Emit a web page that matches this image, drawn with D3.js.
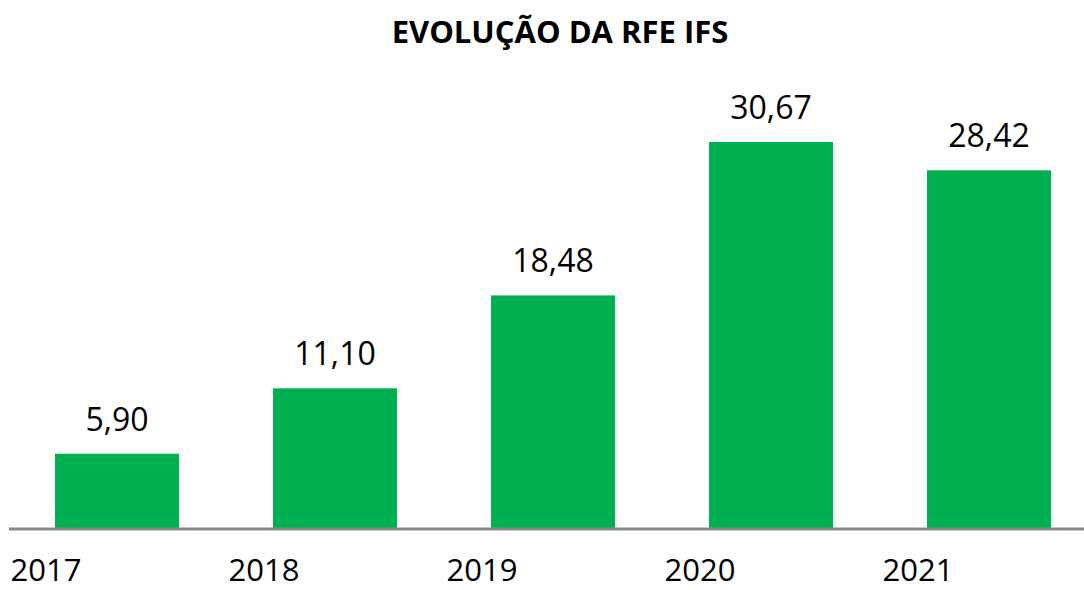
<!DOCTYPE html>
<html>
<head>
<meta charset="utf-8">
<script src="https://cdn.jsdelivr.net/npm/d3@7"></script>
<style>
	body { margin: 0; background: #fff; }
	text { font-family: "Open Sans", sans-serif; fill: #000; }
</style>
</head>
<body>
<script>
// data
var years = ["2017", "2018", "2019", "2020", "2021"];
var values = [5.90, 11.10, 18.48, 30.67, 28.42];
var title = "EVOLUÇÃO DA RFE IFS";

var width = 1084,
	height = 590,
	baseline = 528;

var svg = d3.select("body").append("svg")
	.attr("width", width)
	.attr("height", height);

// set the ranges
var x = d3.scaleBand()
	.domain(years)
	.range([8, 1098])
	.paddingInner(0.431)
	.paddingOuter(0.2155);

var y = d3.scaleLinear()
	.domain([0, 30.67])
	.range([baseline, 142]);

// title
svg.append("text")
	.attr("x", 560)
	.attr("y", 43)
	.attr("font-size", 31)
	.attr("font-weight", "bold")
	.style("text-anchor", "middle")
	.text(title);

// bars
svg.selectAll(".bar")
	.data(values)
	.enter().append("rect")
	.attr("class", "bar")
	.attr("x", function(d, i) { return x(years[i]); })
	.attr("y", function(d) { return y(d); })
	.attr("width", x.bandwidth())
	.attr("height", function(d) { return baseline - y(d); })
	.attr("fill", "#00B050");

// value labels
svg.selectAll(".value")
	.data(values)
	.enter().append("text")
	.attr("class", "value")
	.attr("x", function(d, i) { return x(years[i]) + x.bandwidth() / 2; })
	.attr("y", function(d) { return y(d) - 23; })
	.attr("font-size", 32)
	.style("text-anchor", "middle")
	.text(function(d) { return d.toFixed(2).replace(".", ","); });

// axis line
svg.append("line")
	.attr("x1", 9)
	.attr("x2", width)
	.attr("y1", baseline + 1)
	.attr("y2", baseline + 1)
	.attr("stroke", "#898989")
	.attr("stroke-width", 3);

// category labels, sitting left of the bars as in the original
svg.selectAll(".year")
	.data(years)
	.enter().append("text")
	.attr("class", "year")
	.attr("x", function(d) { return x(d) + x.bandwidth() / 2 - 71; })
	.attr("y", 581)
	.attr("font-size", 31)
	.style("text-anchor", "middle")
	.text(function(d) { return d; });
</script>
</body>
</html>
